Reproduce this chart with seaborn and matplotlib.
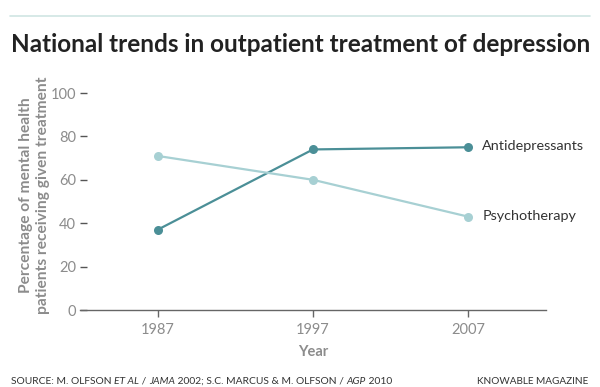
import matplotlib
matplotlib.use('Agg')
import matplotlib.pyplot as plt
import seaborn as sns
import pandas as pd

# ── Data ─────────────────────────────────────────────────────────────────────
years = [1987, 1997, 2007]
antidepressants = [37, 74, 75]
psychotherapy = [71, 60, 43]
y_ticks = [0, 20, 40, 60, 80, 100]

df = pd.DataFrame({
    'Year': years * 2,
    'Percent': antidepressants + psychotherapy,
    'Treatment': ['Antidepressants'] * 3 + ['Psychotherapy'] * 3,
})

# ── Style ────────────────────────────────────────────────────────────────────
sns.set_theme(style="white")
plt.rcParams['font.family'] = ['Lato', 'DejaVu Sans']

dark_teal = '#4b8f97'
light_teal = '#a7d0d3'
gray = '#8c8c8c'

fig = plt.figure(figsize=(6, 3.87), dpi=100)
ax = fig.add_axes([80 / 600, 1 - 310 / 387, (546 - 80) / 600, (310 - 80) / 387])

sns.lineplot(data=df, x='Year', y='Percent', hue='Treatment',
             palette={'Antidepressants': dark_teal, 'Psychotherapy': light_teal},
             marker='o', markersize=6.5, markeredgewidth=0, linewidth=1.6,
             legend=False, ax=ax)

# end labels
ax.text(years[-1] + 0.9, antidepressants[-1] + 0.5, 'Antidepressants',
        va='center', ha='left', fontsize=10.4, color='#333333')
ax.text(years[-1] + 0.9, psychotherapy[-1] + 0.5, 'Psychotherapy',
        va='center', ha='left', fontsize=10.4, color='#333333')

ax.set_xlim(1982, 2012)
ax.set_ylim(0, 106)
ax.set_xticks(years)
ax.set_yticks(y_ticks)
for s in ['top', 'right', 'left']:
    ax.spines[s].set_visible(False)
ax.spines['bottom'].set_color('#666666')
ax.spines['bottom'].set_linewidth(1.0)
ax.tick_params(axis='x', direction='out', length=5, width=1, color='#666666',
               labelcolor=gray, labelsize=10.5, pad=4, bottom=True)
ax.tick_params(axis='y', direction='in', length=5, width=1, color='#555555',
               labelcolor=gray, labelsize=10.5, pad=3, left=True)

ax.set_xlabel('Year', fontsize=10.5, fontweight='bold', color=gray, labelpad=6)
ax.set_ylabel('Percentage of mental health\npatients receiving given treatment',
              fontsize=11.2, fontweight='bold', color=gray, labelpad=0,
              linespacing=1.3)

# ── Header ───────────────────────────────────────────────────────────────────
fig.add_artist(plt.Line2D([10 / 600, 590 / 600], [1 - 16 / 387, 1 - 16 / 387],
                          color='#cfe5e3', linewidth=1.2))
fig.text(11 / 600, 1 - 44 / 387, 'National trends in outpatient treatment of depression',
         fontsize=17.5, fontweight='bold', color='#222222', va='center', ha='left')

# ── Footer ───────────────────────────────────────────────────────────────────
pieces = [('SOURCE: M. OLFSON ', 'normal'), ('ET AL', 'italic'),
          (' / ', 'normal'), ('JAMA', 'italic'),
          (' 2002; S.C. MARCUS & M. OLFSON / ', 'normal'), ('AGP', 'italic'),
          (' 2010', 'normal')]
prev = fig.text(11 / 600, 1 - 384 / 387, pieces[0][0], fontsize=7.4, color='#333333',
                va='baseline', ha='left')
for txt, style in pieces[1:]:
    prev = ax.annotate(txt, xy=(1, 0), xycoords=prev, xytext=(0, 0),
                       textcoords='offset points', fontsize=7.4, style=style,
                       color='#333333', va='bottom', ha='left', annotation_clip=False)
fig.text(588 / 600, 1 - 384 / 387, 'KNOWABLE MAGAZINE', fontsize=7.2, color='#333333',
         va='baseline', ha='right')

fig.savefig('out.png', dpi=100, facecolor='white')
